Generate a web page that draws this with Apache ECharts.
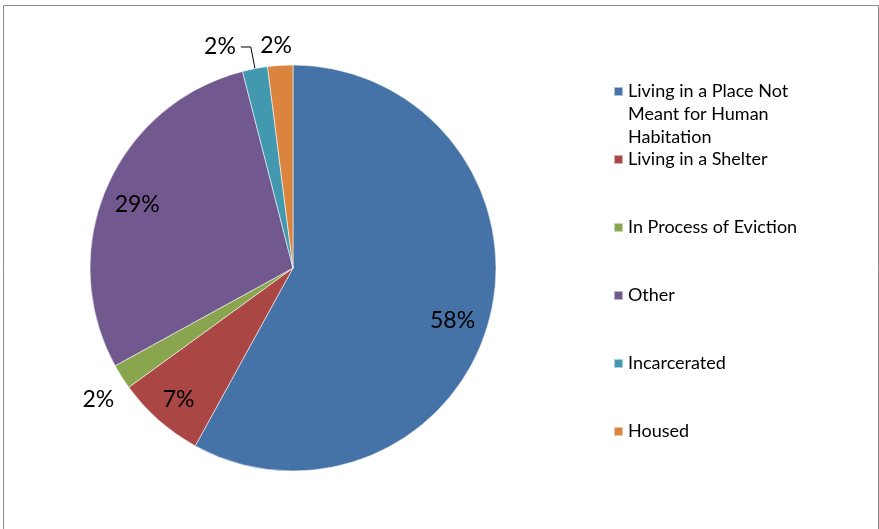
<!DOCTYPE html>
<html><head><meta charset="utf-8">
<script src="https://cdn.jsdelivr.net/npm/echarts@6/dist/echarts.min.js"></script>
<style>html,body{margin:0;padding:0;background:#fff}#c{width:879px;height:529px}</style>
</head><body><div id="c"></div>
<script>
// ---- data ----
const categories = ['Living in a Place Not Meant for Human Habitation', 'Living in a Shelter', 'In Process of Eviction', 'Other', 'Incarcerated', 'Housed'];
const values = [58, 7, 2, 29, 2, 2];
const colors = ['#4572A7', '#AA4643', '#89A54E', '#71588F', '#4198AF', '#DB843D'];
const firstLegendLines = ['Living in a Place Not', 'Meant for Human', 'Habitation'];

// ---- label styling per slice (style only) ----
const labelStyles = [
  { position: 'inside', dx: -8, dy: 10 },
  { position: 'inside', dx: 0, dy: 2 },
  { position: 'outside', line: false, length: 43, length2: -34 },
  { position: 'inside', dx: 3, dy: 5 },
  { position: 'outside', line: true, length: 22, length2: 10 },
  { position: 'outside', line: false, length: 20, length2: -18 }
];

const FONT = 'Lato';
const center = [293, 268];
const R = 203;

const mainData = categories.map((n, i) => ({ name: n, value: values[i], itemStyle: { color: colors[i] } }));
const labelData = categories.map((n, i) => {
  const s = labelStyles[i];
  const o = { name: n, value: values[i], label: { position: s.position } };
  if (s.position === 'outside') {
    o.labelLine = { show: s.line, length: s.length, length2: s.length2 };
  }
  return o;
});

const legendText = { fontFamily: FONT, fontSize: 18, lineHeight: 23, color: '#000' };

const chart = echarts.init(document.getElementById('c'), null, { renderer: 'canvas' });
chart.setOption({
  animation: false,
  color: colors,
  graphic: [{
    type: 'rect', silent: true, z: -10,
    shape: { x: 3.5, y: 5.5, width: 875, height: 600 },
    style: { fill: 'none', stroke: '#8a8a8a', lineWidth: 1 }
  }],
  legend: [{
    data: [categories[0]],
    orient: 'vertical', left: 613, top: 34, padding: 0,
    itemWidth: 9, itemHeight: 9, icon: 'rect',
    formatter: () => '\n\n' + firstLegendLines.join('\n'),
    textStyle: legendText
  }, {
    data: categories.slice(1),
    orient: 'vertical', left: 613, top: 148, padding: 0, itemGap: 45,
    itemWidth: 9, itemHeight: 9, icon: 'rect',
    textStyle: legendText
  }],
  series: [{
    type: 'pie', name: 'main', center: center, radius: [0, R],
    startAngle: 90, clockwise: true, silent: true,
    label: { show: false }, labelLine: { show: false },
    emphasis: { disabled: true },
    itemStyle: { borderColor: 'rgba(255,255,255,0.55)', borderWidth: 1 },
    data: mainData
  }, {
    type: 'pie', name: 'labels', center: center, radius: [137, R],
    startAngle: 90, clockwise: true, silent: true, avoidLabelOverlap: false,
    emphasis: { disabled: true },
    itemStyle: { color: 'rgba(0,0,0,0)', borderWidth: 0 },
    label: {
      show: true, fontFamily: FONT, fontSize: 23, color: '#000',
      formatter: p => p.value + '%'
    },
    labelLine: { lineStyle: { color: '#000', width: 1 } },
    labelLayout: p => {
      const s = labelStyles[p.dataIndex];
      return s.position === 'inside' ? { dx: s.dx, dy: s.dy } : {};
    },
    data: labelData
  }]
});
</script>
</body></html>
